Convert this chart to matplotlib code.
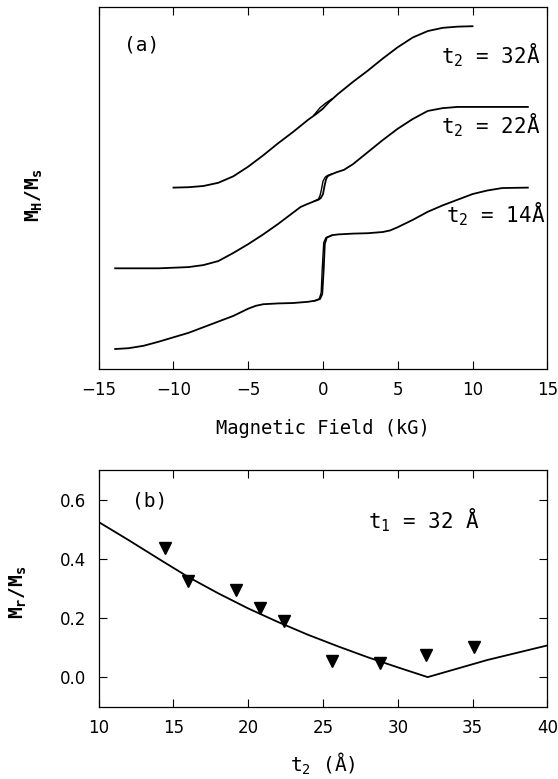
import matplotlib
matplotlib.use('Agg')
import matplotlib.pyplot as plt

OUT = 'out.png'
FIGSIZE = (5.58, 7.79)
DPI = 100

MONO = 'DejaVu Sans Mono'
SANS = 'DejaVu Sans'

plt.rcParams['mathtext.fontset'] = 'custom'
plt.rcParams['mathtext.rm'] = MONO
plt.rcParams['mathtext.it'] = MONO
plt.rcParams['mathtext.bf'] = MONO + ':bold'

# (a) M_H/M_s vs field (kG); up = ascending sweep, dn = descending sweep near H=0
H_32 = [-10, -9, -8, -7, -6, -5, -4, -3, -2, -1, -0.4, 0, 0.4,
        1, 2, 3, 4, 5, 6, 7, 8, 9, 10]
M_32 = [-1.0, -0.995, -0.98, -0.94, -0.86, -0.74, -0.60, -0.45, -0.31, -0.16,
        -0.08, -0.02, 0.06, 0.16, 0.31, 0.45, 0.60, 0.74, 0.86, 0.94, 0.98,
        0.995, 1.0]
H_32_DN = [0.6, 0.2, -0.2, -0.6]
M_32_DN = [0.10, 0.05, -0.01, -0.10]

H_22 = [-13.9, -11, -9, -8, -7, -6, -5, -4, -3, -2, -1.5, -1, -0.6, -0.3,
        -0.15, 0, 0.1, 0.2, 0.3, 0.5, 0.9, 1.4, 2, 3, 4, 5, 6, 7, 8, 9, 11,
        13.7]
M_22 = [-1.0, -1.0, -0.985, -0.96, -0.91, -0.81, -0.70, -0.58, -0.45, -0.31,
        -0.24, -0.20, -0.17, -0.15, -0.13, -0.08, 0.02, 0.10, 0.14, 0.16,
        0.19, 0.22, 0.29, 0.44, 0.59, 0.73, 0.85, 0.95, 0.985, 1.0, 1.0, 1.0]
H_22_DN = [0.6, 0.3, 0.15, 0, -0.1, -0.2, -0.3, -0.6]
M_22_DN = [0.17, 0.15, 0.13, 0.08, -0.02, -0.10, -0.14, -0.17]

H_14 = [-13.9, -13, -12, -11, -10, -9, -8, -7, -6, -5, -4.5, -4, -3, -2, -1,
        -0.5, -0.2, -0.05, 0.05, 0.12, 0.25, 0.6, 1, 2, 3, 4, 4.5, 5, 6, 7,
        8, 9, 10, 11, 12, 13.7]
M_14 = [-1.0, -0.99, -0.96, -0.91, -0.855, -0.80, -0.73, -0.66, -0.59, -0.50,
        -0.465, -0.445, -0.435, -0.43, -0.415, -0.40, -0.38, -0.32, 0.0, 0.30,
        0.38, 0.41, 0.42, 0.43, 0.435, 0.45, 0.47, 0.51, 0.60, 0.70, 0.78,
        0.85, 0.92, 0.965, 0.995, 1.0]
H_14_DN = [0.6, 0.2, 0.05, -0.05, -0.12, -0.25, -0.6]
M_14_DN = [0.41, 0.38, 0.32, 0.0, -0.30, -0.38, -0.405]

LABELS_A = ['t$_2$ = 32Å', 't$_2$ = 22Å', 't$_2$ = 14Å']

# (b) remanence vs t2 (A), t1 = 32 A
T2_DATA = [14.4, 16.0, 19.2, 20.8, 22.4, 25.6, 28.8, 31.9, 35.1]
MR_DATA = [0.436, 0.326, 0.295, 0.233, 0.191, 0.056, 0.047, 0.076, 0.101]
T2_FIT = [10, 12, 14, 16, 18, 20, 22, 24, 26, 28, 30, 32, 36, 40]
MR_FIT = [0.524, 0.463, 0.400, 0.338, 0.283, 0.232, 0.186, 0.143, 0.104,
          0.067, 0.033, 0.0, 0.058, 0.107]


def style_axes(ax):
    ax.tick_params(direction='in', top=True, right=True, length=6,
                   width=0.8, pad=9, labelsize=12)
    for lab in ax.get_xticklabels() + ax.get_yticklabels():
        lab.set_family(SANS)
    for s in ax.spines.values():
        s.set_linewidth(0.9)


def plot_loops(ax):
    curves = [(H_32, M_32, H_32_DN, M_32_DN),
              (H_22, M_22, H_22_DN, M_22_DN),
              (H_14, M_14, H_14_DN, M_14_DN)]
    offsets = [2, 1, 0]
    for (h, m, hd, md), off in zip(curves, offsets):
        ax.plot(h, [v + off for v in m], color='black', lw=1.3)
        ax.plot(hd, [v + off for v in md], color='black', lw=1.0)

    label_pos = [(7.9, 2.54), (7.9, 1.67), (8.25, 0.565)]
    for text, (x, y) in zip(LABELS_A, label_pos):
        ax.text(x, y, text, family=MONO, fontsize=15, va='baseline')
    ax.text(-13.3, 2.705, '(a)', family=MONO, fontsize=14, va='baseline')

    ax.set_xlim(-15, 15)
    ax.set_ylim(-1.244, 3.242)
    ax.set_xticks(range(-15, 16, 5))
    ax.set_yticks([])
    style_axes(ax)
    ax.set_xlabel('Magnetic Field (kG)', family=MONO, fontsize=13.5,
                  labelpad=14)


def plot_remanence(ax):
    ax.plot(T2_FIT, MR_FIT, color='black', lw=1.3)
    ax.plot(T2_DATA, MR_DATA, linestyle='none', marker='v', color='black',
            markersize=9)
    ax.text(12.2, 0.577, '(b)', family=MONO, fontsize=14, va='baseline')
    ax.text(28.0, 0.501, 't$_1$ = 32 Å', family=MONO, fontsize=15,
            va='baseline')

    ax.set_xlim(10, 40)
    ax.set_ylim(-0.1, 0.7)
    ax.set_xticks(range(10, 41, 5))
    ax.set_yticks([0.0, 0.2, 0.4, 0.6])
    ax.set_yticklabels(['0.0', '0.2', '0.4', '0.6'])
    style_axes(ax)
    ax.set_xlabel('t$_2$ (Å)', family=MONO, fontsize=14, labelpad=10)


if __name__ == '__main__':
    fig = plt.figure(figsize=FIGSIZE, dpi=DPI)
    ax_a = fig.add_axes([0.1769, 0.5267, 0.8039, 0.4647])
    ax_b = fig.add_axes([0.1769, 0.0928, 0.8039, 0.3039])

    plot_loops(ax_a)
    plot_remanence(ax_b)

    fig.text(34 / 558, 1 - 195 / 779, r'M$_\mathbf{H}$/M$_\mathbf{s}$',
             family=MONO, fontweight='bold', fontsize=14, rotation=90,
             ha='center', va='center')
    fig.text(18 / 558, 1 - 592 / 779, r'M$_\mathbf{r}$/M$_\mathbf{s}$',
             family=MONO, fontweight='bold', fontsize=14, rotation=90,
             ha='center', va='center')

    fig.savefig(OUT, dpi=DPI)
    plt.close(fig)
